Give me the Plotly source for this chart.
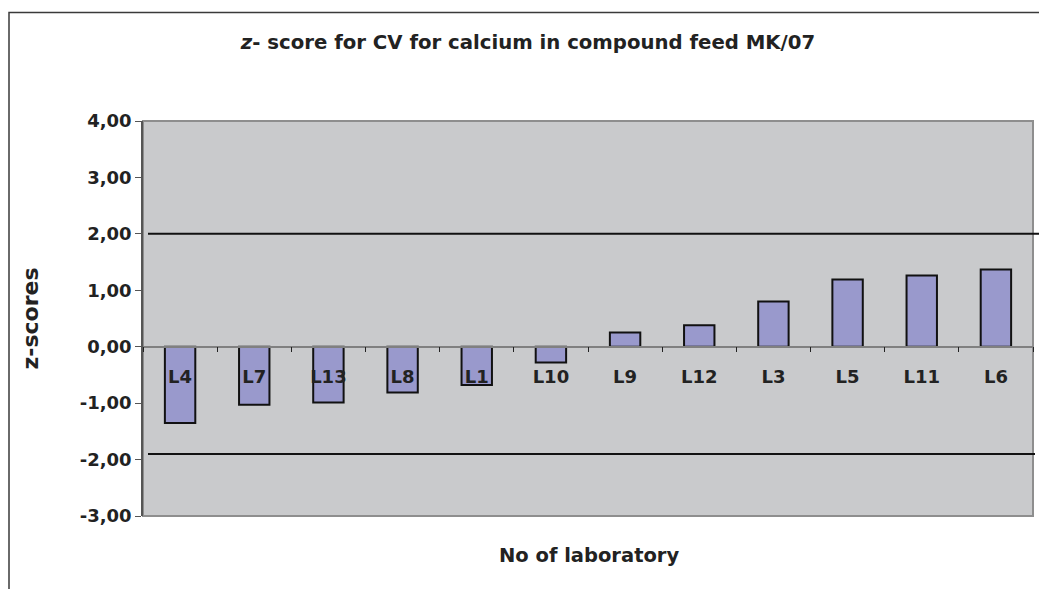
import plotly.graph_objects as go

labs = ["L4", "L7", "L13", "L8", "L1", "L10", "L9", "L12", "L3", "L5", "L11", "L6"]
zscores = [-1.35, -1.03, -0.99, -0.81, -0.68, -0.28, 0.25, 0.38, 0.80, 1.19, 1.26, 1.37]
upper_limit = 2.0
lower_limit = -1.9
y_ticks = [4, 3, 2, 1, 0, -1, -2, -3]
y_ticktext = [f"{v:.2f}".replace(".", ",") for v in y_ticks]

FONT = "DejaVu Sans"
W, H = 1039, 589
ml, mr, mt, mb = 143, 6, 121, 73
pw = W - ml - mr
ph = H - mt - mb

def px_x(p):
    return (p - ml) / pw

def px_y(p):
    return (H - mb - p) / ph

fig = go.Figure()
fig.add_trace(go.Bar(
    x=labs, y=zscores, width=0.41,
    marker=dict(color="#9999cc", line=dict(color="#111111", width=2)),
    hoverinfo="skip", showlegend=False,
))

shapes = []
# plot area border
shapes.append(dict(type="rect", xref="paper", yref="paper", x0=0, x1=1, y0=0, y1=1,
                   line=dict(color="#8e8e8e", width=2), layer="below"))
# limit lines
shapes.append(dict(type="line", xref="paper", yref="y", x0=px_x(148), x1=px_x(1040),
                   y0=upper_limit, y1=upper_limit, line=dict(color="#111111", width=2)))
shapes.append(dict(type="line", xref="paper", yref="y", x0=px_x(148), x1=px_x(1035),
                   y0=lower_limit, y1=lower_limit, line=dict(color="#111111", width=2)))
# outer chart frame
shapes.append(dict(type="rect", xref="paper", yref="paper", x0=px_x(9), x1=px_x(1060),
                   y0=px_y(620), y1=px_y(12.5), line=dict(color="#3a3a3a", width=1.5)))

fig.update_layout(
    width=W, height=H,
    margin=dict(l=ml, r=mr, t=mt, b=mb),
    paper_bgcolor="white", plot_bgcolor="#c9cacc",
    font=dict(family=FONT, color="#222222"),
    shapes=shapes,
    bargap=0.59,
    title=dict(text="<b><i>z</i>- score for CV for calcium in compound feed MK/07</b>",
               x=528 / W, xanchor="center", y=1 - 42 / H, yanchor="middle",
               font=dict(size=19.7, family=FONT, color="#222222")),
    xaxis=dict(
        type="category", range=[-0.5, len(labs) - 0.5],
        anchor="free", position=3 / 7,
        showline=True, linecolor="#808080", linewidth=1.5,
        ticks="outside", tickson="boundaries", ticklen=5, tickcolor="#222222", tickwidth=1,
        ticklabelstandoff=14,
        tickfont=dict(size=18, family=FONT, color="#222222"),
        tickprefix="<b>", ticksuffix="</b>",
        showgrid=False, zeroline=False, fixedrange=True,
    ),
    yaxis=dict(
        range=[-3, 4], tickmode="array", tickvals=y_ticks, ticktext=["<b>" + t + "</b>" for t in y_ticktext],
        showline=True, linecolor="#555555", linewidth=1.5,
        ticks="outside", ticklen=6, tickcolor="#555555",
        tickfont=dict(size=18, family=FONT, color="#222222"),
        showgrid=False, zeroline=False,
        title=dict(text="<b>z-scores</b>", font=dict(size=22, family=FONT, color="#222222"), standoff=35),
    ),
    annotations=[dict(text="<b>No of laboratory</b>", xref="paper", yref="paper",
                      x=px_x(589), y=px_y(555), xanchor="center", yanchor="middle",
                      showarrow=False, font=dict(size=19.5, family=FONT, color="#222222"))],
)

fig.write_html("out.html", config={"displayModeBar": False},
               post_script="document.body.style.margin='0';document.body.style.overflow='hidden';")
